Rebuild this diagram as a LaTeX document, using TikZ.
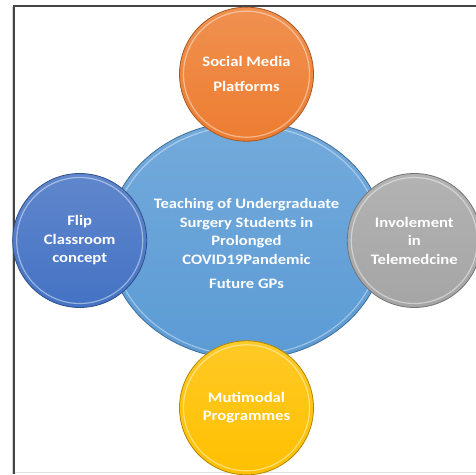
\documentclass[tikz,border=0pt]{standalone}
\usepackage{fontspec}
\setmainfont{Carlito}[FakeStretch=1.15]
\usepackage{tikz}
\usetikzlibrary{shapes.geometric, positioning}
\definecolor{hubblue}{HTML}{5B9BD5}
\definecolor{flipblue}{HTML}{4472C4}
\definecolor{telegray}{HTML}{A5A5A5}
\definecolor{mediaorange}{HTML}{ED7D31}
\definecolor{multiyellow}{HTML}{FFC000}
\definecolor{framegray}{HTML}{444444}
\tikzset{
    hub/.style={ellipse, minimum width=277pt, minimum height=238pt, inner sep=-40pt, align=center, text=white, font=\bfseries\fontsize{14.4}{18.5}\selectfont, draw=hubblue!70!black, line width=0.8pt, top color=hubblue!85!white, bottom color=hubblue, path picture={\draw[white, opacity=0.4, line width=1.2pt] (path picture bounding box.center) circle [x radius=134pt, y radius=115pt];}},
    spoke/.style={circle, minimum size=134pt, inner sep=-20pt, align=center, text=white, font=\bfseries\fontsize{14.5}{18.5}\selectfont, draw=#1!70!black, line width=0.8pt, top color=#1!85!white, bottom color=#1, path picture={\draw[white, opacity=0.45, line width=1.2pt] (path picture bounding box.center) circle (63pt);}},
    edge line/.style={framegray, line width=1.6pt}
}
\begin{document}
\begin{tikzpicture}[x=1pt, y=1pt]
    \useasboundingbox (0,0) rectangle (476,474);
    % frame
    \draw [gray!35, line width=1pt] (12.5,0) -- (12.5,467);
    \draw [gray!25, line width=1pt] (14,1.5) -- (476,1.5);
    \draw [edge line] (14,0) -- (14,468) -- (476,468);

    \node [hub] (teach) at (246.5,233.5) {\rule{0pt}{17pt}Teaching of Undergraduate\\Surgery Students in\\Prolonged\\COVID19Pandemic\\[6pt]Future GPs};
    \node [spoke=mediaorange, above=-20.5pt of teach] (media) {Social Media\\[7pt]Platforms};
    \node [spoke=flipblue, left=-39.5pt of teach] (flip) {Flip\\Classroom\\concept};
    \node [spoke=telegray, right=-38.5pt of teach] (tele) {Involement\\in\\Telemedcine};
    \node [spoke=multiyellow, below=-19.5pt of teach] (multi) {Mutimodal\\Programmes};
\end{tikzpicture}
\end{document}
